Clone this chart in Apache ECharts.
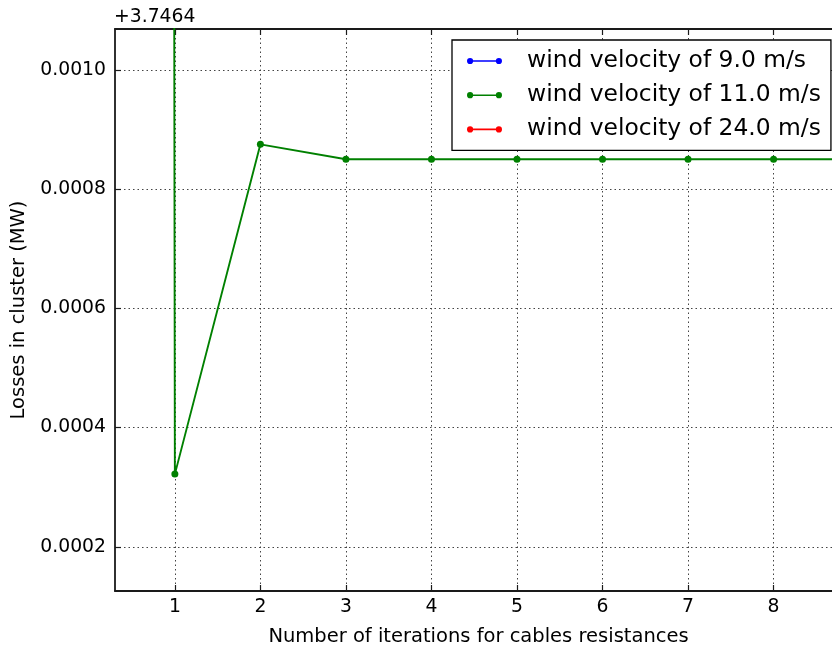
<!DOCTYPE html>
<html>
<head>
<meta charset="utf-8">
<script src="https://cdn.jsdelivr.net/npm/echarts@6/dist/echarts.min.js"></script>
<style>
html,body{margin:0;padding:0;background:#fff;}
#chart{width:832px;height:647px;}
</style>
</head>
<body>
<div id="chart"></div>
<script>
// Values shown relative to the axis offset (+3.7464 MW)
const OFFSET_LABEL = '+3.7464';
const iterations = [0, 1, 2, 3, 4, 5, 6, 7, 8, 9];
// 9.0 m/s and 24.0 m/s lie outside the visible range: not readable from the picture
const losses9 = [];
const losses11 = [0.1036, 0.000322, 0.000875, 0.00085, 0.00085, 0.00085, 0.00085, 0.00085, 0.00085, 0.00085];
const losses24 = [];
const seriesNames = ['wind velocity of 9.0 m/s', 'wind velocity of 11.0 m/s', 'wind velocity of 24.0 m/s'];
const seriesColors = ['#0000ff', '#008000', '#ff0000'];
const xTicks = [1, 2, 3, 4, 5, 6, 7, 8];
const yTicks = [0.0002, 0.0004, 0.0006, 0.0008, 0.0010];
const xTitle = 'Number of iterations for cables resistances';
const yTitle = 'Losses in cluster (MW)';

const FONT = 'DejaVu Sans';
const pair = (xs, ys) => ys.map((v, i) => [xs[i], v]);
const allData = [losses9, losses11, losses24];

const legendIcon = 'path://M0,6A6,6 0 1,1 12,6A6,6 0 1,1 0,6Z M6,4.4H62V7.6H6Z M56,6A6,6 0 1,1 68,6A6,6 0 1,1 56,6Z';

const gridLine = { show: true, lineStyle: { color: '#444', width: 1, type: [1.5, 3] } };
const axisLine = { show: true, onZero: false, lineStyle: { color: '#1a1a1a', width: 1.8 } };
const tickStyle = { show: true, inside: true, length: 6, lineStyle: { color: '#1a1a1a', width: 1.2 } };

const chart = echarts.init(document.getElementById('chart'), null, { renderer: 'canvas' });
chart.setOption({
  animation: false,
  backgroundColor: '#ffffff',
  textStyle: { fontFamily: FONT },
  grid: { left: 115, top: 29, width: 727, height: 562, containLabel: false, outerBoundsMode: 'none' },
  graphic: [{
    type: 'text', left: 114, top: 8,
    style: { text: OFFSET_LABEL, font: '18.8px "DejaVu Sans"', fill: '#000' }
  }],
  legend: {
    orient: 'vertical', left: 452, top: 40,
    padding: [9, 10, 9, 15],
    itemGap: 10.2,
    itemWidth: 35, itemHeight: 6.2,
    icon: legendIcon,
    backgroundColor: '#fff',
    borderColor: '#000', borderWidth: 1.3, borderRadius: 0,
    textStyle: { fontFamily: FONT, fontSize: 23.4, lineHeight: 24, color: '#000', padding: [0, 0, 0, 20] },
    data: seriesNames
  },
  xAxis: [{
    type: 'value', min: 0.3, max: 8.8, position: 'bottom',
    name: xTitle, nameLocation: 'middle', nameGap: 36,
    nameTextStyle: { fontFamily: FONT, fontSize: 19.5, color: '#000' },
    axisLine: axisLine, axisTick: Object.assign({ customValues: xTicks }, tickStyle),
    axisLabel: { customValues: xTicks, fontFamily: FONT, fontSize: 18.8, color: '#000', margin: 7 },
    splitLine: gridLine
  }, {
    type: 'value', min: 0.3, max: 8.8, position: 'top',
    axisLine: axisLine, axisTick: Object.assign({ customValues: xTicks }, tickStyle),
    axisLabel: { show: false }, splitLine: { show: false }
  }],
  yAxis: [{
    type: 'value', min: 0.000126, max: 0.0010684, position: 'left',
    name: yTitle, nameLocation: 'middle', nameGap: 82, nameRotate: 90,
    nameTextStyle: { fontFamily: FONT, fontSize: 19.5, color: '#000' },
    axisLine: axisLine, axisTick: Object.assign({ customValues: yTicks }, tickStyle),
    axisLabel: { customValues: yTicks, fontFamily: FONT, fontSize: 18.8, color: '#000', margin: 9,
      formatter: v => v.toFixed(4) },
    splitLine: gridLine
  }, {
    type: 'value', min: 0.000126, max: 0.0010684, position: 'right',
    axisLine: axisLine, axisTick: Object.assign({ customValues: yTicks }, tickStyle),
    axisLabel: { show: false }, splitLine: { show: false }
  }],
  series: seriesNames.map((name, i) => ({
    name: name, type: 'line', xAxisIndex: 0, yAxisIndex: 0,
    data: pair(iterations, allData[i]),
    clip: true,
    color: seriesColors[i],
    symbol: 'circle', symbolSize: 7, showSymbol: true,
    lineStyle: { width: 1.9, color: seriesColors[i] },
    itemStyle: { color: seriesColors[i] },
    z: 3 + i
  }))
});
</script>
</body>
</html>
